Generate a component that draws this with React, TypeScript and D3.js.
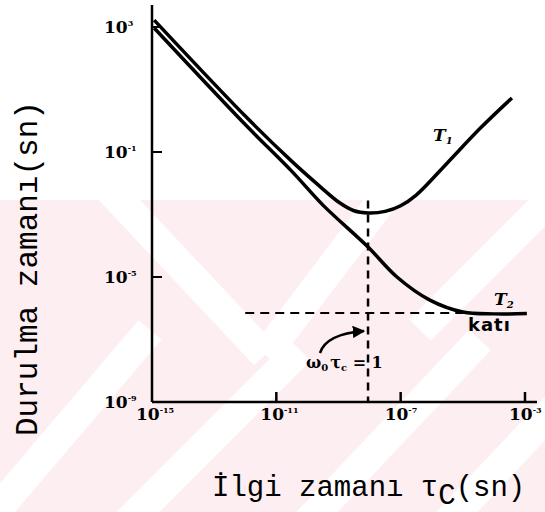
import { useEffect, useRef } from "react";
import * as d3 from "d3";

// axis decades (log10 of seconds)
const xTickExp = [-15, -11, -7, -3];
const yTickExp = [-9, -5, -1, 3];

// T1 curve (log10 tau_c, log10 T)
const t1Tau = [-14.93, -12.0, -10.5, -9.6, -9.0, -8.5, -8.05, -7.5, -7.0, -6.5, -5.5, -4.45, -3.42];
const t1Val = [3.22, 0.15, -1.3, -2.1, -2.6, -2.88, -2.95, -2.9, -2.72, -2.38, -1.35, -0.25, 0.73];

// T2 curve (solid)
const t2Tau = [-14.93, -12.0, -10.5, -9.5, -8.05, -7.12, -6.06, -5.0, -4.0, -2.94];
const t2Val = [2.97, -0.12, -1.62, -2.7, -4.04, -5.0, -5.74, -6.12, -6.18, -6.17];

// guide lines
const omegaTau = -8.05; // w0*tc = 1
const plateau = -6.15;

export default function App() {
  const svgRef = useRef<SVGSVGElement>(null);
  const width = 545;
  const height = 512;

  useEffect(() => {
    const svg = d3.select(svgRef.current);
    svg.selectAll("*").remove();

    const x = d3.scaleLog().domain([1e-15, 1e-3]).range([152, 525]);
    const y = d3.scaleLog().domain([1e-9, 1e3]).range([402, 27]);
    const X = (e: number) => x(Math.pow(10, e));
    const Y = (e: number) => y(Math.pow(10, e));

    // faint scan watermark
    const defs = svg.append("defs");
    defs.append("clipPath").attr("id", "wm").append("rect")
      .attr("x", 0).attr("y", 200).attr("width", width).attr("height", height - 200);
    const wm = svg.append("g").attr("clip-path", "url(#wm)");
    wm.append("rect").attr("x", 0).attr("y", 200).attr("width", width).attr("height", height - 200)
      .attr("fill", "#fdeef1");
    const stripes: [number, number, number, number][] = [
      [110, 190, 265, 355],
      [265, 355, 390, 190],
      [-20, 530, 150, 330],
      [120, 530, 300, 350],
      [300, 530, 480, 340],
      [440, 530, 600, 360],
      [420, 330, 600, 150],
    ];
    wm.selectAll("line.s").data(stripes).enter().append("line")
      .attr("x1", (d) => d[0]).attr("y1", (d) => d[1])
      .attr("x2", (d) => d[2]).attr("y2", (d) => d[3])
      .attr("stroke", "#fff").attr("stroke-width", 30);

    const g = svg.append("g");

    // axes
    g.append("line").attr("x1", x(1e-15)).attr("x2", x(1e-15))
      .attr("y1", y(1e-9)).attr("y2", 5)
      .attr("stroke", "#000").attr("stroke-width", 2.5);
    g.append("line").attr("x1", x(1e-15)).attr("x2", 537)
      .attr("y1", y(1e-9)).attr("y2", y(1e-9))
      .attr("stroke", "#000").attr("stroke-width", 2.5);

    g.selectAll(".xt").data(xTickExp.slice(1)).enter().append("line")
      .attr("x1", (d) => X(d)).attr("x2", (d) => X(d))
      .attr("y1", y(1e-9)).attr("y2", y(1e-9) - 10)
      .attr("stroke", "#000").attr("stroke-width", 2.5);
    g.selectAll(".yt").data(yTickExp.slice(1)).enter().append("line")
      .attr("y1", (d) => Y(d)).attr("y2", (d) => Y(d))
      .attr("x1", x(1e-15)).attr("x2", x(1e-15) + 10)
      .attr("stroke", "#000").attr("stroke-width", 2);

    const tickFont = "'DejaVu Serif', serif";
    const xl = g.selectAll(".xl").data(xTickExp).enter().append("text")
      .attr("x", (d) => X(d) - 16).attr("y", 420)
      .attr("font-family", tickFont).attr("font-weight", "bold").attr("font-size", 17);
    xl.append("tspan").text("10");
    xl.append("tspan").attr("dy", -7).attr("font-size", 8).text((d) => `${d}`);

    const yl = g.selectAll(".yl").data(yTickExp).enter().append("text")
      .attr("x", 104).attr("y", (d) => Y(d) + 6)
      .attr("font-family", tickFont).attr("font-weight", "bold").attr("font-size", 17);
    yl.append("tspan").text("10");
    yl.append("tspan").attr("dy", -7).attr("font-size", 8).text((d) => `${d}`);

    // dashed guides
    g.append("line").attr("x1", X(omegaTau)).attr("x2", X(omegaTau))
      .attr("y1", Y(-2.55)).attr("y2", y(1e-9))
      .attr("stroke", "#000").attr("stroke-width", 2.5).attr("stroke-dasharray", "8,6");
    g.append("line").attr("x1", X(-12.0)).attr("x2", X(-5.0))
      .attr("y1", Y(plateau)).attr("y2", Y(plateau))
      .attr("stroke", "#000").attr("stroke-width", 2).attr("stroke-dasharray", "9,6");

    // curves
    const line = d3.line<[number, number]>()
      .x((d) => X(d[0])).y((d) => Y(d[1]))
      .curve(d3.curveCatmullRom.alpha(0.5));
    g.append("path").attr("d", line(t1Tau.map((t, i) => [t, t1Val[i]])))
      .attr("fill", "none").attr("stroke", "#000").attr("stroke-width", 3.5);
    g.append("path").attr("d", line(t2Tau.map((t, i) => [t, t2Val[i]])))
      .attr("fill", "none").attr("stroke", "#000").attr("stroke-width", 3.5);

    // curve labels
    const t1 = g.append("text").attr("x", 433).attr("y", 141)
      .attr("font-family", tickFont).attr("font-weight", "bold").attr("font-style", "italic").attr("font-size", 17);
    t1.append("tspan").text("T");
    t1.append("tspan").attr("dy", 3).attr("font-size", 10).text("1");
    const t2 = g.append("text").attr("x", 494).attr("y", 305)
      .attr("font-family", tickFont).attr("font-weight", "bold").attr("font-style", "italic").attr("font-size", 17);
    t2.append("tspan").text("T");
    t2.append("tspan").attr("dy", 3).attr("font-size", 10).text("2");
    g.append("text").attr("x", 468).attr("y", 331)
      .attr("font-family", "'DejaVu Sans', sans-serif").attr("font-weight", "bold").attr("font-size", 18)
      .attr("letter-spacing", 1).text("katı");

    // w0 tc = 1 note with arrow
    defs.append("marker").attr("id", "ah").attr("viewBox", "0 0 10 10")
      .attr("refX", 9).attr("refY", 5).attr("markerWidth", 5).attr("markerHeight", 5)
      .attr("orient", "auto").append("path").attr("d", "M0,0L10,5L0,10z").attr("fill", "#000");
    g.append("path").attr("d", "M320,353 Q326,334 364,331")
      .attr("fill", "none").attr("stroke", "#000").attr("stroke-width", 2.5)
      .attr("marker-end", "url(#ah)");
    const om = g.append("text").attr("x", 306).attr("y", 368)
      .attr("font-family", tickFont).attr("font-weight", "bold").attr("font-size", 16);
    om.append("tspan").text("ω");
    om.append("tspan").attr("dy", 3).attr("font-size", 10).text("0");
    om.append("tspan").attr("dy", -3).attr("dx", 2).text("τ");
    om.append("tspan").attr("dy", 3).attr("font-size", 10).text("c");
    om.append("tspan").attr("dy", -3).text(" = 1");

    // axis titles
    const mono = "'Liberation Mono', monospace";
    const xt = g.append("text").attr("x", 212).attr("y", 496)
      .attr("font-family", mono).attr("font-size", 29);
    xt.append("tspan").text("İlgi zamanı τ");
    xt.append("tspan").attr("dy", 8).text("C");
    xt.append("tspan").attr("dy", -8).text("(sn)");
    g.append("text").attr("transform", "translate(37,436) rotate(-90)")
      .attr("font-family", mono).attr("font-size", 31)
      .text("Durulma zamanı(sn)");
  }, []);

  return (
    <svg
      ref={svgRef}
      width={width}
      height={height}
      style={{ position: "absolute", left: 0, top: 0, background: "#fff" }}
    />
  );
}
